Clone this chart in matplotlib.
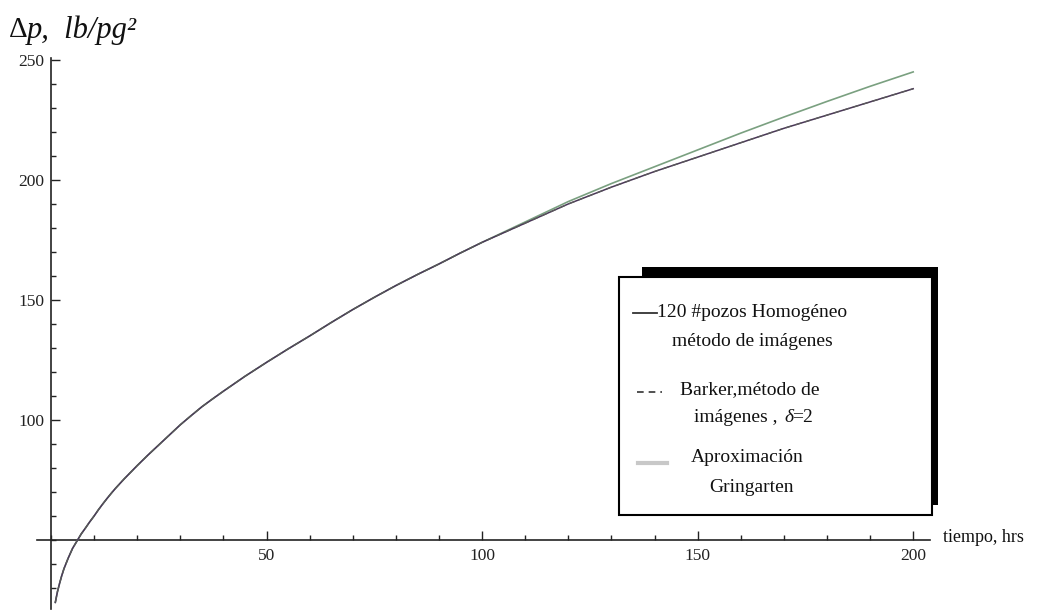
import matplotlib
matplotlib.use("Agg")
import matplotlib.pyplot as plt
from matplotlib.patches import Rectangle
from matplotlib.lines import Line2D
from matplotlib.ticker import MultipleLocator, FixedLocator

# Time (hrs) and pressure drop (lb/pg^2) for each model
t_images = [1, 1.5, 2, 2.5, 3, 4, 5, 6, 7, 8, 9, 10, 11, 12, 13, 14, 15, 17, 20,
            22.5, 25, 27.5, 30, 32.5, 35, 37.5, 40, 45, 50, 55, 60, 65, 70, 75,
            80, 85, 90, 95, 100, 110, 120, 130, 140, 150, 160, 170, 180, 190, 200]
dp_images = [24, 28.5, 32, 35.2, 38, 42.5, 46.5, 49.5, 52.5, 55, 57.6, 60, 62.6,
             65, 67.3, 69.5, 71.6, 75.5, 81, 85.4, 89.6, 93.8, 98, 101.8, 105.5,
             108.8, 112, 118.2, 124, 129.6, 135, 140.6, 146, 151.1, 156, 160.6, 165,
             169.6, 174, 182, 190, 197, 203.5, 209.5, 215.5, 221.5, 227, 232.5, 238]

t_barker = t_images
dp_barker = dp_images

t_gringarten = t_images
dp_gringarten = [24, 28.5, 32, 35.2, 38, 42.5, 46.5, 49.5, 52.5, 55, 57.6, 60, 62.6,
                 65, 67.3, 69.5, 71.6, 75.5, 81, 85.4, 89.6, 93.8, 98, 101.8, 105.5,
                 108.8, 112, 118.2, 124, 129.6, 135, 140.6, 146, 151.1, 156, 160.6, 165,
                 169.6, 174, 182.5, 191, 198.5, 205.5, 212.5, 219.5, 226.2, 232.7, 239, 245]

x_major = [50, 100, 150, 200]
y_major = [100, 150, 200, 250]

W, H = 1039, 613
serif = ["Liberation Serif", "DejaVu Serif"]
plt.rcParams["font.family"] = serif

fig = plt.figure(figsize=(W / 100, H / 100), dpi=100)
fig.patch.set_facecolor("white")

ax = fig.add_axes([37 / W, 1 - 609 / H, (930 - 37) / W, (609 - 58) / H])
ax.set_xlim(-3.25, 203.9)
ax.set_ylim(21.25, 250.8)

ax.plot(t_gringarten, dp_gringarten, color="#7aa080", lw=1.2, zorder=3)
ax.plot(t_images, dp_images, color="#4a3658", lw=1.1, zorder=4)
ax.plot(t_barker, dp_barker, color="#5a5a5a", lw=0.9, ls=(0, (5, 3)), zorder=5)

# Axes crossing at the origin (0, 50)
for s in ("top", "right"):
    ax.spines[s].set_visible(False)
ax.spines["left"].set_position(("data", 0))
ax.spines["bottom"].set_position(("data", 50))
for s in ("left", "bottom"):
    ax.spines[s].set_linewidth(1.2)
    ax.spines[s].set_color("#222222")

ax.xaxis.set_major_locator(FixedLocator(x_major))
ax.xaxis.set_minor_locator(MultipleLocator(10))
ax.yaxis.set_major_locator(FixedLocator(y_major))
ax.yaxis.set_minor_locator(MultipleLocator(10))
ax.tick_params(which="both", direction="in", color="#222222", width=1.0)
ax.tick_params(which="major", length=6.5, labelsize=12.5, colors="#222222")
ax.tick_params(which="minor", length=3.6)
ax.tick_params(axis="x", which="major", pad=6)
ax.tick_params(axis="y", which="major", pad=5)

def fx(px):
    return px / W

def fy(py):
    return 1 - py / H

fig.text(fx(9), fy(30), "Δ", fontsize=21, va="center", ha="left", color="#111111")
fig.text(fx(27), fy(30), "p,  lb/pg²", fontsize=22, style="italic",
         va="center", ha="left", color="#111111")
fig.text(fx(943), fy(538), "tiempo, hrs", fontsize=13, va="center", ha="left",
         color="#111111")

# Legend box with offset shadow
fig.patches.append(Rectangle((fx(642), fy(505)), (938 - 642) / W, (505 - 267) / H,
                             transform=fig.transFigure, facecolor="black",
                             edgecolor="none", zorder=10))
fig.patches.append(Rectangle((fx(619), fy(515)), (932 - 619) / W, (515 - 277) / H,
                             transform=fig.transFigure, facecolor="white",
                             edgecolor="black", lw=1.5, zorder=11))

fig.lines.append(Line2D([fx(633), fx(657)], [fy(313), fy(313)], transform=fig.transFigure,
                        color="#333333", lw=1.3, zorder=12))
fig.lines.append(Line2D([fx(637), fx(662)], [fy(392), fy(392)], transform=fig.transFigure,
                        color="#333333", lw=1.2, ls=(0, (4, 3)), zorder=12))
fig.lines.append(Line2D([fx(638), fx(667)], [fy(463), fy(463)], transform=fig.transFigure,
                        color="#c8c8c8", lw=3, zorder=12))

lt = dict(fontsize=14, va="center", color="#111111", zorder=13)
fig.text(fx(657), fy(313), "120 #pozos Homogéneo", ha="left", **lt)
fig.text(fx(752), fy(341), "método de imágenes", ha="center", **lt)
fig.text(fx(750), fy(390), "Barker,método de", ha="center", **lt)
fig.text(fx(694), fy(418), "imágenes ,", ha="left", **lt)
fig.text(fx(784), fy(418), "δ", ha="left", style="italic", **lt)
fig.text(fx(792), fy(418), "=2", ha="left", **lt)
fig.text(fx(747), fy(458), "Aproximación", ha="center", **lt)
fig.text(fx(751), fy(487), "Gringarten", ha="center", **lt)

fig.savefig("out.png", dpi=100, facecolor="white")
